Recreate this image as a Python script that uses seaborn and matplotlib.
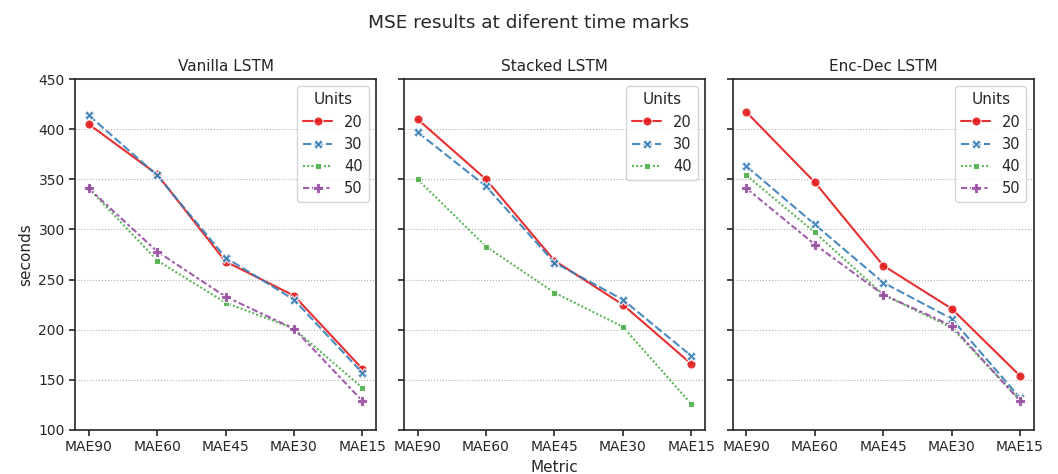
import pandas as pd
import seaborn as sns
import matplotlib.pyplot as plt

metrics = ["MAE90", "MAE60", "MAE45", "MAE30", "MAE15"]

# Vanilla LSTM
vanilla_20 = [405, 355, 268, 234, 161]
vanilla_30 = [414, 354, 272, 230, 157]
vanilla_40 = [341, 269, 227, 201, 142]
vanilla_50 = [341, 278, 233, 201, 129]

# Stacked LSTM
stacked_20 = [410, 350, 269, 225, 166]
stacked_30 = [397, 343, 267, 230, 174]
stacked_40 = [350, 283, 237, 203, 126]

# Enc-Dec LSTM
encdec_20 = [417, 347, 264, 221, 154]
encdec_30 = [363, 305, 247, 211, 132]
encdec_40 = [354, 297, 235, 202, 130]
encdec_50 = [341, 285, 235, 204, 129]

titles = ["Vanilla LSTM", "Stacked LSTM", "Enc-Dec LSTM"]


def to_frame(series):
    rows = []
    for units, vals in series.items():
        for m, v in zip(metrics, vals):
            rows.append({"Metric": m, "seconds": v, "Units": units})
    return pd.DataFrame(rows)


frames = [
    to_frame({"20": vanilla_20, "30": vanilla_30, "40": vanilla_40, "50": vanilla_50}),
    to_frame({"20": stacked_20, "30": stacked_30, "40": stacked_40}),
    to_frame({"20": encdec_20, "30": encdec_30, "40": encdec_40, "50": encdec_50}),
]

sns.set_style("ticks")
plt.rcParams.update({
    "axes.linewidth": 1.2,
    "xtick.major.width": 1.2,
    "ytick.major.width": 1.2,
    "xtick.major.size": 4,
    "ytick.major.size": 4,
})

fig, axes = plt.subplots(1, 3, figsize=(10.58, 4.74), dpi=100, sharey=True)
fig.subplots_adjust(left=0.071, right=0.977, top=0.833, bottom=0.093, wspace=0.093)

for ax, df, title in zip(axes, frames, titles):
    n = df["Units"].nunique()
    sns.lineplot(data=df, x="Metric", y="seconds", hue="Units", style="Units",
                 markers=True, palette=sns.color_palette("Set1", n), alpha=0.9,
                 markersize=6.5, ax=ax)
    ax.set_title(title, fontsize=11)
    ax.set_ylim(100, 450)
    ax.set_yticks(range(100, 451, 50))
    ax.grid(axis="y", linestyle=":", color="#b0b0b0", linewidth=0.8)
    ax.tick_params(labelsize=10)
    ax.legend(title="Units", loc="upper right", fontsize=10.5, title_fontsize=11)
    ax.set_xlabel("")
    ax.set_ylabel("")

axes[0].set_ylabel("seconds", fontsize=11)
axes[1].set_xlabel("Metric", fontsize=11)
fig.suptitle("MSE results at diferent time marks", fontsize=13.3, y=0.97)

plt.savefig("out.png")
plt.close()
